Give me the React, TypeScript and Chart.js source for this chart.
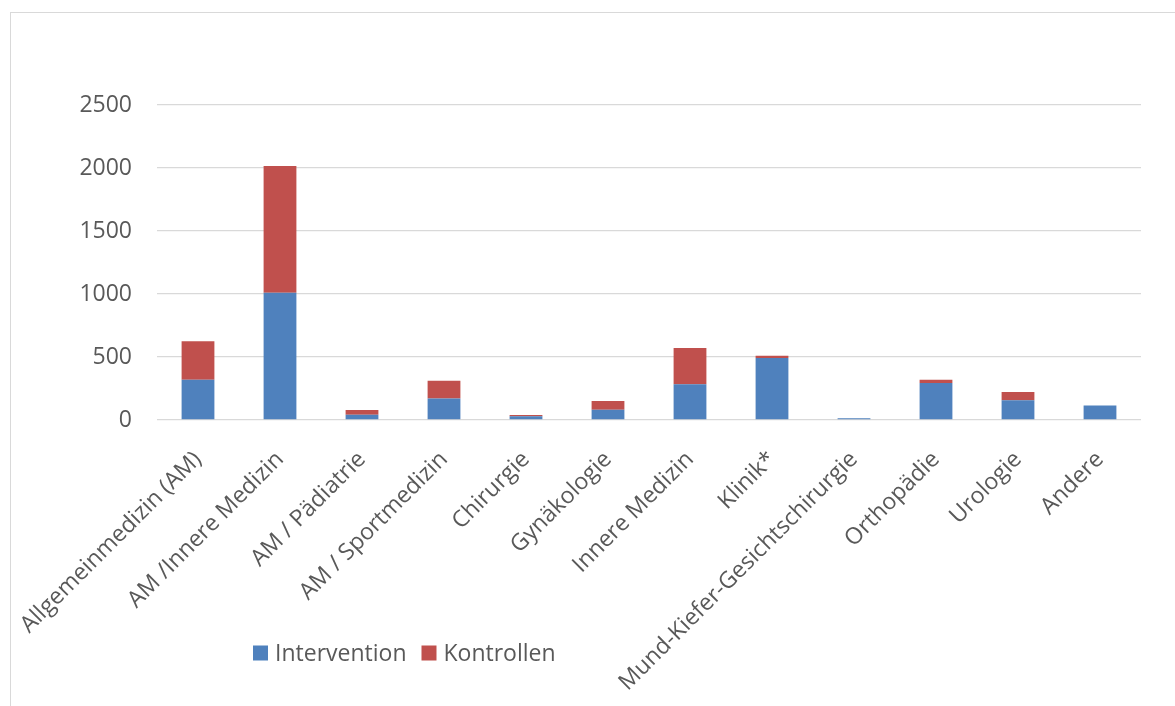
import React, { useEffect, useRef } from "react";
import { Chart, registerables } from "chart.js";

Chart.register(...registerables);

const categories = [
  "Allgemeinmedizin (AM)",
  "AM /Innere Medizin",
  "AM / Pädiatrie",
  "AM / Sportmedizin",
  "Chirurgie",
  "Gynäkologie",
  "Innere Medizin",
  "Klinik*",
  "Mund-Kiefer-Gesichtschirurgie",
  "Orthopädie",
  "Urologie",
  "Andere",
];

const intervention = [320, 1010, 42, 170, 29, 82, 283, 492, 13, 293, 156, 116];
const kontrollen = [305, 1005, 37, 142, 11, 68, 288, 18, 0, 27, 66, 0];

const yTicks = [0, 500, 1000, 1500, 2000, 2500];

const seriesNames = ["Intervention", "Kontrollen"];
const seriesColors = ["#4F81BD", "#C0504D"];

const FONT = "'Open Sans', 'Noto Sans', sans-serif";
const TEXT = "#595959";
const FONT_SIZE = 23;

const legendPlugin = {
  id: "customLegend",
  afterDraw(chart: any) {
    const ctx = chart.ctx;
    const area = chart.chartArea;
    ctx.save();
    ctx.font = `${FONT_SIZE}px ${FONT}`;
    ctx.textBaseline = "middle";
    ctx.textAlign = "left";
    let x = area.left + 96;
    const y = 653;
    chart.data.datasets.forEach((ds: any) => {
      ctx.fillStyle = ds.backgroundColor;
      ctx.fillRect(x, y - 7.5, 15, 15);
      ctx.fillStyle = TEXT;
      ctx.fillText(ds.label, x + 22, y + 1);
      x += 22 + ctx.measureText(ds.label).width + 15;
    });
    ctx.restore();
  },
};

export default function App() {
  const ref = useRef<HTMLCanvasElement>(null);
  useEffect(() => {
    const chart = new Chart(ref.current!, {
      type: "bar",
      data: {
        labels: categories,
        datasets: [
          {
            label: seriesNames[0],
            data: intervention,
            backgroundColor: seriesColors[0],
            barPercentage: 0.4,
            categoryPercentage: 1,
          },
          {
            label: seriesNames[1],
            data: kontrollen,
            backgroundColor: seriesColors[1],
            barPercentage: 0.4,
            categoryPercentage: 1,
          },
        ],
      },
      options: {
        animation: false,
        responsive: false,
        maintainAspectRatio: false,
        layout: { padding: { top: 105, right: 34, bottom: 0, left: 0 } },
        plugins: {
          legend: { display: false },
          tooltip: { enabled: false },
        },
        scales: {
          x: {
            stacked: true,
            grid: { display: false, drawTicks: false },
            border: { display: false },
            ticks: {
              color: TEXT,
              font: { family: FONT, size: FONT_SIZE },
              maxRotation: 45,
              minRotation: 45,
              autoSkip: false,
              padding: 26,
            },
            afterFit(scale: any) {
              scale.height = 706 - 420;
              scale.paddingLeft = 0;
              scale.paddingRight = 0;
            },
          },
          y: {
            stacked: true,
            min: 0,
            max: 2500,
            afterBuildTicks(scale: any) {
              scale.ticks = yTicks.map((v) => ({ value: v }));
            },
            grid: { color: "#d9d9d9", lineWidth: 1.3, drawTicks: false },
            border: { display: false },
            ticks: {
              color: TEXT,
              font: { family: FONT, size: FONT_SIZE },
              padding: 25,
              callback: (v: any) => String(v),
            },
            afterFit(scale: any) {
              scale.width = 157 - 10;
              scale.paddingTop = 0;
              scale.paddingBottom = 0;
            },
          },
        },
      },
      plugins: [legendPlugin],
    });
    return () => chart.destroy();
  }, []);
  return (
    <div
      style={{
        position: "fixed",
        left: 0,
        top: 0,
        width: 1175,
        height: 706,
        background: "#fff",
      }}
    >
      <div
        style={{
          position: "absolute",
          left: 10,
          top: 12,
          width: 1200,
          height: 720,
          border: "1px solid #d9d9d9",
          boxSizing: "border-box",
        }}
      />
      <canvas
        ref={ref}
        width={1165}
        height={706}
        style={{ position: "absolute", left: 10, top: 0, width: 1165, height: 706 }}
      />
    </div>
  );
}
